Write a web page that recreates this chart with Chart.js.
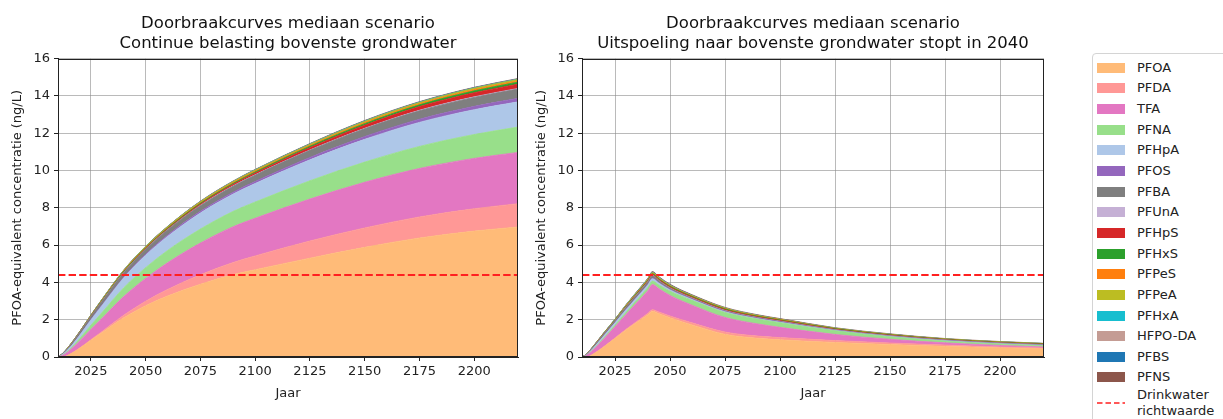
<!DOCTYPE html>
<html>
<head>
<meta charset="utf-8">
<script src="https://cdn.jsdelivr.net/npm/chart.js@4.4.1/dist/chart.umd.min.js"></script>
<style>
  html, body { margin: 0; padding: 0; background: #fff; }
  body { width: 1223px; height: 419px; position: relative; overflow: hidden; font-family: 'DejaVu Sans', sans-serif; }
  canvas { position: absolute; top: 0; }
  #cLeft { left: 0; }
  #cRight { left: 524px; }
  #legend { position: absolute; left: 1092px; top: 53px; width: 150px; height: 380px;
            border: 1px solid #d4d4d4; border-radius: 4px; background: #fff; }
  .lg-item { position: absolute; left: 0; height: 20px; line-height: 20px; font-size: 13px; color: #222; white-space: nowrap; }
  .lg-sw { position: absolute; left: 4px; top: 5px; width: 28px; height: 10px; }
  .lg-tx { position: absolute; left: 44px; top: 0; }
</style>
</head>
<body>
<canvas id="cLeft" width="545" height="419"></canvas>
<canvas id="cRight" width="543" height="419"></canvas>
<div id="legend"></div>
<script>
// ---- categories and tick labels ----
const speciesNames = ['PFOA', 'PFDA', 'TFA', 'PFNA', 'PFHpA', 'PFOS', 'PFBA', 'PFUnA', 'PFHpS',
                      'PFHxS', 'PFPeS', 'PFPeA', 'PFHxA', 'HFPO-DA', 'PFBS', 'PFNS'];
const guidelineName = 'Drinkwater richtwaarde';
const guidelineValue = 4.4;
const xTicks = [2025, 2050, 2075, 2100, 2125, 2150, 2175, 2200];
const yTicks = [0, 2, 4, 6, 8, 10, 12, 14, 16];
const titleCont = ['Doorbraakcurves mediaan scenario', 'Continue belasting bovenste grondwater'];
const titleStop = ['Doorbraakcurves mediaan scenario', 'Uitspoeling naar bovenste grondwater stopt in 2040'];

// ---- scenario 1: continuous loading (ng/L per substance) ----
const yearsCont = [2010, 2012, 2015, 2020, 2025, 2030, 2040, 2050, 2060, 2075, 2090, 2100, 2125, 2150, 2175, 2200, 2220];
const contPFOA   = [0, 0, 0.12, 0.48, 0.9, 1.3, 2.1, 2.75, 3.27, 3.9, 4.42, 4.68, 5.3, 5.88, 6.38, 6.75, 6.97];
const contPFDA   = [0, 0, 0, 0.01, 0.03, 0.06, 0.14, 0.24, 0.35, 0.51, 0.65, 0.74, 0.92, 1.04, 1.13, 1.2, 1.25];
const contTFA    = [0, 0.08, 0.2, 0.38, 0.55, 0.7, 1.0, 1.22, 1.43, 1.7, 1.92, 2.02, 2.25, 2.45, 2.6, 2.7, 2.75];
const contPFNA   = [0, 0.02, 0.05, 0.13, 0.22, 0.31, 0.47, 0.58, 0.66, 0.75, 0.82, 0.87, 0.98, 1.08, 1.18, 1.28, 1.36];
const contPFHpA  = [0, 0.03, 0.08, 0.18, 0.28, 0.37, 0.53, 0.66, 0.75, 0.86, 0.93, 0.99, 1.12, 1.22, 1.29, 1.33, 1.35];
const contPFOS   = [0, 0, 0, 0.01, 0.02, 0.03, 0.04, 0.06, 0.07, 0.09, 0.1, 0.11, 0.13, 0.15, 0.17, 0.18, 0.19];
const contPFBA   = [0, 0.04, 0.09, 0.14, 0.17, 0.2, 0.24, 0.26, 0.28, 0.3, 0.32, 0.34, 0.38, 0.42, 0.45, 0.48, 0.5];
const contPFUnA  = [0, 0, 0, 0, 0.005, 0.01, 0.01, 0.01, 0.01, 0.02, 0.02, 0.02, 0.02, 0.02, 0.03, 0.03, 0.03];
const contPFHpS  = [0, 0, 0, 0.005, 0.01, 0.01, 0.02, 0.03, 0.04, 0.06, 0.08, 0.09, 0.13, 0.17, 0.2, 0.22, 0.23];
const contPFHxS  = [0, 0, 0.01, 0.015, 0.02, 0.03, 0.035, 0.04, 0.045, 0.05, 0.055, 0.06, 0.07, 0.08, 0.09, 0.1, 0.11];
const contPFPeS  = [0, 0, 0.01, 0.01, 0.015, 0.02, 0.025, 0.03, 0.035, 0.04, 0.045, 0.05, 0.05, 0.06, 0.06, 0.07, 0.07];
const contPFPeA  = [0, 0.01, 0.01, 0.01, 0.015, 0.02, 0.025, 0.03, 0.035, 0.04, 0.045, 0.05, 0.05, 0.06, 0.06, 0.07, 0.07];
const contPFHxA  = [0, 0, 0, 0, 0.005, 0.005, 0.005, 0.005, 0.005, 0.005, 0.005, 0.005, 0.01, 0.01, 0.01, 0.01, 0.01];
const contHFPODA = [0, 0, 0, 0, 0, 0.005, 0.005, 0.005, 0.005, 0.01, 0.01, 0.01, 0.01, 0.01, 0.01, 0.01, 0.01];
const contPFBS   = [0, 0, 0, 0, 0, 0, 0.005, 0.005, 0.005, 0.005, 0.005, 0.005, 0.005, 0.01, 0.01, 0.01, 0.01];
const contPFNS   = [0, 0, 0, 0.005, 0.005, 0.01, 0.01, 0.01, 0.01, 0.015, 0.015, 0.015, 0.02, 0.02, 0.02, 0.02, 0.02];

// ---- scenario 2: leaching stops in 2040 (ng/L per substance) ----
const yearsStop = [2010, 2012, 2015, 2020, 2025, 2030, 2035, 2040, 2042, 2045, 2050, 2060, 2075, 2090, 2100, 2125, 2150, 2175, 2200, 2220];
const stopPFOA   = [0, 0, 0.15, 0.55, 1.0, 1.45, 1.86, 2.27, 2.45, 2.32, 2.1, 1.72, 1.22, 1.0, 0.92, 0.78, 0.67, 0.57, 0.49, 0.44];
const stopPFDA   = [0, 0, 0, 0.01, 0.02, 0.04, 0.06, 0.08, 0.09, 0.09, 0.1, 0.11, 0.12, 0.12, 0.12, 0.1, 0.08, 0.07, 0.05, 0.04];
const stopTFA    = [0, 0.08, 0.22, 0.42, 0.6, 0.79, 1.0, 1.22, 1.35, 1.25, 1.1, 0.95, 0.78, 0.65, 0.55, 0.33, 0.2, 0.12, 0.08, 0.06];
const stopPFNA   = [0, 0.01, 0.03, 0.06, 0.09, 0.12, 0.15, 0.17, 0.18, 0.2, 0.23, 0.26, 0.27, 0.26, 0.25, 0.2, 0.14, 0.1, 0.08, 0.07];
const stopPFHpA  = [0, 0.02, 0.06, 0.1, 0.12, 0.13, 0.13, 0.13, 0.12, 0.09, 0.06, 0.04, 0.03, 0.02, 0.02, 0.01, 0.01, 0.01, 0.01, 0.01];
const stopPFOS   = [0, 0, 0, 0.01, 0.01, 0.02, 0.02, 0.03, 0.03, 0.03, 0.03, 0.03, 0.03, 0.03, 0.03, 0.02, 0.02, 0.02, 0.02, 0.02];
const stopPFBA   = [0, 0.03, 0.07, 0.1, 0.11, 0.12, 0.13, 0.14, 0.14, 0.1, 0.07, 0.04, 0.03, 0.02, 0.02, 0.01, 0.01, 0.01, 0.01, 0.01];
const stopPFUnA  = [0, 0, 0, 0, 0, 0.01, 0.01, 0.01, 0.01, 0.01, 0.01, 0.01, 0.01, 0.01, 0.01, 0.01, 0.01, 0.01, 0.01, 0.01];
const stopPFHpS  = [0, 0, 0, 0.01, 0.01, 0.02, 0.03, 0.04, 0.05, 0.05, 0.05, 0.05, 0.05, 0.04, 0.04, 0.03, 0.03, 0.02, 0.02, 0.02];
const stopPFHxS  = [0, 0, 0.01, 0.01, 0.02, 0.02, 0.03, 0.03, 0.04, 0.04, 0.04, 0.04, 0.04, 0.03, 0.03, 0.03, 0.02, 0.02, 0.02, 0.02];
const stopPFPeS  = [0, 0, 0.01, 0.01, 0.01, 0.02, 0.02, 0.03, 0.03, 0.03, 0.03, 0.02, 0.02, 0.02, 0.02, 0.01, 0.01, 0.01, 0.01, 0.01];
const stopPFPeA  = [0, 0.01, 0.01, 0.02, 0.02, 0.03, 0.03, 0.03, 0.03, 0.03, 0.02, 0.02, 0.02, 0.02, 0.01, 0.01, 0.01, 0.01, 0.01, 0.01];
const stopPFHxA  = [0, 0, 0, 0, 0.01, 0.01, 0.01, 0.01, 0.01, 0.01, 0.01, 0, 0, 0, 0, 0, 0, 0, 0, 0];
const stopHFPODA = [0, 0, 0, 0, 0, 0.01, 0.01, 0.01, 0.01, 0.01, 0.01, 0.01, 0.01, 0.01, 0.01, 0.01, 0.01, 0, 0, 0];
const stopPFBS   = [0, 0, 0, 0, 0, 0, 0.01, 0.01, 0.01, 0.01, 0.01, 0.01, 0, 0, 0, 0, 0, 0, 0, 0];
const stopPFNS   = [0, 0, 0, 0.01, 0.01, 0.01, 0.02, 0.02, 0.03, 0.03, 0.03, 0.03, 0.03, 0.03, 0.03, 0.02, 0.02, 0.02, 0.02, 0.01];

// ---- styling ----
const speciesColors = ['#ffbb78', '#ff9896', '#e377c2', '#98df8a', '#aec7e8', '#9467bd', '#7f7f7f', '#c5b0d5',
                       '#d62728', '#2ca02c', '#ff7f0e', '#bcbd22', '#17becf', '#c49c94', '#1f77b4', '#8c564b'];
const guidelineColor = '#ff2020';
const gridColor = 'rgba(140,140,140,0.6)';
const inkColor = '#222';

Chart.defaults.font.family = "'DejaVu Sans', sans-serif";
Chart.defaults.color = inkColor;

const contSeries = [contPFOA, contPFDA, contTFA, contPFNA, contPFHpA, contPFOS, contPFBA, contPFUnA, contPFHpS,
                    contPFHxS, contPFPeS, contPFPeA, contPFHxA, contHFPODA, contPFBS, contPFNS];
const stopSeries = [stopPFOA, stopPFDA, stopTFA, stopPFNA, stopPFHpA, stopPFOS, stopPFBA, stopPFUnA, stopPFHpS,
                    stopPFHxS, stopPFPeS, stopPFPeA, stopPFHxA, stopHFPODA, stopPFBS, stopPFNS];

function buildDatasets(years, series) {
  const areas = series.map((vals, i) => ({
    label: speciesNames[i],
    data: years.map((x, j) => ({ x: x, y: vals[j] })),
    backgroundColor: speciesColors[i],
    borderColor: speciesColors[i],
    borderWidth: 0.8,
    fill: i === 0 ? 'origin' : '-1',
    pointRadius: 0,
    cubicInterpolationMode: 'monotone',
    stack: 'conc'
  }));
  areas.push({
    label: guidelineName,
    data: [{ x: years[0], y: guidelineValue }, { x: years[years.length - 1], y: guidelineValue }],
    borderColor: guidelineColor,
    borderWidth: 2,
    borderDash: [7.4, 3.2],
    fill: false,
    pointRadius: 0,
    stack: 'guideline',
    order: -1
  });
  return areas;
}

// draws the top and right spines around the plot area
const framePlugin = {
  id: 'frame',
  afterDraw(chart) {
    const a = chart.chartArea, ctx = chart.ctx;
    ctx.save();
    ctx.strokeStyle = inkColor;
    ctx.lineWidth = 1;
    ctx.strokeRect(Math.round(a.left) + 0.5, Math.round(a.top) + 0.5,
                   Math.round(a.right - a.left) - 1, Math.round(a.bottom - a.top) - 1);
    ctx.restore();
  }
};

function makeChart(canvasId, years, series, titleLines, padRight) {
  return new Chart(document.getElementById(canvasId), {
    type: 'line',
    data: { datasets: buildDatasets(years, series) },
    plugins: [framePlugin],
    options: {
      responsive: false,
      animation: false,
      devicePixelRatio: 1,
      layout: { padding: { left: 0, right: padRight, top: 0, bottom: 0 } },
      plugins: {
        legend: { display: false },
        tooltip: { enabled: false },
        title: {
          display: true,
          fullSize: false,
          text: titleLines,
          color: '#111',
          font: { size: 16.5, weight: 'normal', lineHeight: 1.2 },
          padding: { top: 14, bottom: 5 }
        }
      },
      scales: {
        x: {
          type: 'linear',
          min: 2010,
          max: 2220,
          z: 1,
          afterBuildTicks: s => { s.ticks = xTicks.map(v => ({ value: v })); },
          afterFit: s => { s.height = 62; },
          ticks: { callback: v => String(v), font: { size: 13 }, color: inkColor, padding: 3, maxRotation: 0, autoSkip: false },
          grid: { color: gridColor, lineWidth: 1, tickColor: inkColor, tickLength: 4 },
          border: { display: true, color: inkColor, width: 1 },
          title: { display: true, text: 'Jaar', font: { size: 13 }, color: inkColor, padding: { top: 2, bottom: 18 } }
        },
        y: {
          stacked: true,
          min: 0,
          max: 16,
          z: 1,
          afterBuildTicks: s => { s.ticks = yTicks.map(v => ({ value: v })); },
          afterFit: s => { s.width = 58; },
          ticks: { font: { size: 13 }, color: inkColor, padding: 4 },
          grid: { color: gridColor, lineWidth: 1, tickColor: inkColor, tickLength: 4 },
          border: { display: true, color: inkColor, width: 1 },
          title: { display: true, text: 'PFOA-equivalent concentratie (ng/L)', font: { size: 13 }, color: inkColor, padding: { top: 10, bottom: 0 } }
        }
      }
    }
  });
}

makeChart('cLeft', yearsCont, contSeries, titleCont, 27);
makeChart('cRight', yearsStop, stopSeries, titleStop, 23);

// ---- legend ----
const legend = document.getElementById('legend');
const rowTop = 13.7 - 10;   // first row, relative to the legend box
const rowStep = 20.65;
speciesNames.forEach((name, i) => {
  const item = document.createElement('div');
  item.className = 'lg-item';
  item.style.top = (rowTop + i * rowStep) + 'px';
  item.innerHTML = '<span class="lg-sw" style="background:' + speciesColors[i] + '"></span><span class="lg-tx"></span>';
  item.querySelector('.lg-tx').textContent = name;
  legend.appendChild(item);
});
const gItem = document.createElement('div');
gItem.style.cssText = 'position:absolute;left:0;top:' + (rowTop + 16 * rowStep - 1) + 'px;font-size:13px;line-height:16px;color:#222;';
gItem.innerHTML = '<svg style="position:absolute;left:4px;top:14px" width="28" height="4">' +
  '<line x1="0" y1="2" x2="28" y2="2" stroke="' + guidelineColor + '" stroke-width="1.6" stroke-dasharray="5.5,3"/></svg>' +
  '<div style="position:absolute;left:44px;top:0;white-space:nowrap">' + guidelineName.split(' ').join('<br>') + '</div>';
legend.appendChild(gItem);
</script>
</body>
</html>
